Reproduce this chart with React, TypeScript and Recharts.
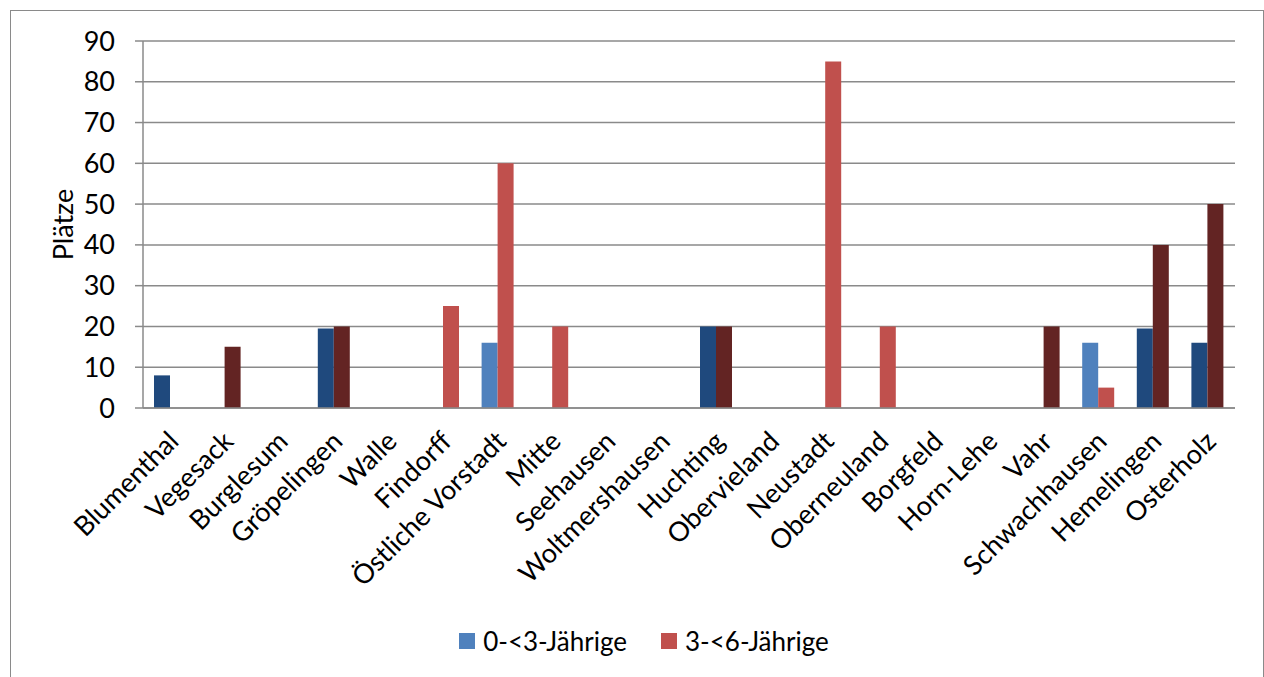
import { Bar, BarChart, CartesianGrid, Cell, Legend, XAxis, YAxis } from "recharts";

const districts = [
  "Blumenthal",
  "Vegesack",
  "Burglesum",
  "Gröpelingen",
  "Walle",
  "Findorff",
  "Östliche Vorstadt",
  "Mitte",
  "Seehausen",
  "Woltmershausen",
  "Huchting",
  "Obervieland",
  "Neustadt",
  "Oberneuland",
  "Borgfeld",
  "Horn-Lehe",
  "Vahr",
  "Schwachhausen",
  "Hemelingen",
  "Osterholz",
];

const under3 = [8, 0, 0, 19.5, 0, 0, 16, 0, 0, 0, 20, 0, 0, 0, 0, 0, 0, 16, 19.5, 16];
const over3 = [0, 15, 0, 20, 0, 25, 60, 20, 0, 0, 20, 0, 85, 20, 0, 0, 20, 5, 40, 50];

// which bars are drawn in the dark shade of their series
const under3Dark = [true, true, true, true, true, true, false, true, true, true, true, true, true, true, true, true, true, false, true, true];
const over3Dark = [true, true, true, true, true, false, false, false, true, true, true, true, false, false, true, true, true, false, true, true];

const yTicks = [0, 10, 20, 30, 40, 50, 60, 70, 80, 90];

const series = [
  { key: "under3", label: "0-<3-Jährige", light: "#4F81BD", dark: "#1F497D", darkFlags: under3Dark },
  { key: "over3", label: "3-<6-Jährige", light: "#C0504D", dark: "#632423", darkFlags: over3Dark },
];

const data = districts.map((name, i) => ({ name, under3: under3[i], over3: over3[i] }));

const FONT = "Lato, 'DejaVu Sans', sans-serif";
const AXIS_GRAY = "#8a8a8a";

function DistrictTick({ x, y, payload }: any) {
  const ax = x + 10;
  const ay = y + 35;
  return (
    <text
      x={ax}
      y={ay}
      transform={`rotate(-45, ${ax}, ${ay})`}
      textAnchor="end"
      fontSize={27}
      fontFamily={FONT}
      fill="#000"
    >
      {payload.value}
    </text>
  );
}

function PlaetzeLabel({ viewBox }: any) {
  const cx = 62;
  const cy = viewBox.y + viewBox.height / 2;
  return (
    <text
      x={cx}
      y={cy}
      transform={`rotate(-90, ${cx}, ${cy})`}
      textAnchor="middle"
      dominantBaseline="central"
      fontSize={27}
      fontFamily={FONT}
      fill="#000"
    >
      Plätze
    </text>
  );
}

function ChartLegend() {
  return (
    <div
      style={{
        display: "flex",
        justifyContent: "center",
        alignItems: "center",
        height: 36,
        gap: 34,
        fontFamily: FONT,
        fontSize: 26,
        color: "#000",
      }}
    >
      {series.map((s) => (
        <div key={s.key} style={{ display: "flex", alignItems: "center" }}>
          <span style={{ width: 16, height: 16, background: s.light, marginRight: 8, display: "inline-block" }} />
          <span>{s.label}</span>
        </div>
      ))}
    </div>
  );
}

export default function App() {
  return (
    <div style={{ position: "absolute", left: 0, top: 0, width: 1264, height: 677, overflow: "hidden", background: "#fff" }}>
      <div
        style={{
          position: "absolute",
          left: 10,
          top: 10,
          width: 1254,
          height: 700,
          border: `1.5px solid ${AXIS_GRAY}`,
          boxSizing: "border-box",
        }}
      />
      <div style={{ position: "absolute", left: 0, top: 0 }}>
        <BarChart
          width={1264}
          height={677}
          data={data}
          margin={{ top: 41, right: 29, left: 0, bottom: 18 }}
          barGap={0}
          barSize={16}
        >
          <CartesianGrid vertical={false} stroke={AXIS_GRAY} strokeWidth={1.5} />
          <XAxis
            dataKey="name"
            interval={0}
            height={215}
            tickLine={false}
            tickSize={0}
            tickMargin={0}
            axisLine={{ stroke: AXIS_GRAY, strokeWidth: 1.5 }}
            tick={<DistrictTick />}
          />
          <YAxis
            width={143}
            domain={[0, 90]}
            ticks={yTicks}
            tickSize={8}
            tickMargin={20}
            axisLine={{ stroke: AXIS_GRAY, strokeWidth: 1.5 }}
            tickLine={{ stroke: AXIS_GRAY, strokeWidth: 1.5 }}
            tick={{ fill: "#000", fontSize: 27, fontFamily: FONT }}
            label={<PlaetzeLabel />}
          />
          <Legend
            verticalAlign="bottom"
            content={<ChartLegend />}
            wrapperStyle={{ left: 22, width: 1244 }}
          />
          {series.map((s) => (
            <Bar key={s.key} dataKey={s.key} name={s.label} fill={s.light} isAnimationActive={false}>
              {data.map((d, i) => (
                <Cell key={d.name} fill={s.darkFlags[i] ? s.dark : s.light} />
              ))}
            </Bar>
          ))}
        </BarChart>
      </div>
    </div>
  );
}
